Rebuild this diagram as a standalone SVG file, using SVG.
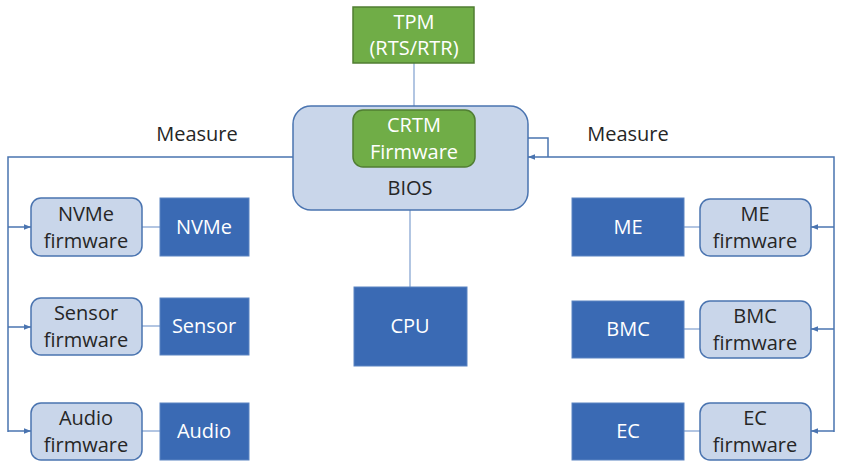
<svg xmlns="http://www.w3.org/2000/svg" width="846" height="468" viewBox="0 0 846 468">
<style>
text{font-family:"Open Sans","Liberation Sans",sans-serif;font-size:20px;text-anchor:middle}
.g{fill:#70AD47;stroke:#507E32;stroke-width:1.5}
.lb{fill:#C9D6EA;stroke:#4A74B0;stroke-width:1.5}
.db{fill:#3A6AB4;stroke:#5B84C2;stroke-width:1}
.w{fill:#FFFFFF}
.k{fill:#262626}
.c{fill:none;stroke:#4A74B0;stroke-width:1.5}
.t{fill:none;stroke:#7F9FCF;stroke-width:1.2}
</style>
<defs>
<marker id="ah" viewBox="0 0 10 10" refX="10" refY="5" markerWidth="7" markerHeight="7" orient="auto" markerUnits="userSpaceOnUse">
<path d="M0,1 L10,5 L0,9 Z" fill="#4A74B0"/>
</marker>
</defs>
<g id="connectors">
<line class="t" x1="414" y1="63" x2="414" y2="107"/>
<line class="t" x1="410" y1="210" x2="410" y2="287"/>
<polyline class="c" points="293,157 8,157 8,432"/>
<line class="c" x1="8" y1="227" x2="31" y2="227" marker-end="url(#ah)"/>
<line class="c" x1="8" y1="327" x2="31" y2="327" marker-end="url(#ah)"/>
<line class="c" x1="8" y1="431" x2="31" y2="431" marker-end="url(#ah)"/>
<polyline class="c" points="475,138 548,138 548,157"/>
<polyline class="c" points="834,432 834,157 528,157" marker-end="url(#ah)"/>
<line class="c" x1="834" y1="227" x2="811" y2="227" marker-end="url(#ah)"/>
<line class="c" x1="834" y1="329" x2="811" y2="329" marker-end="url(#ah)"/>
<line class="c" x1="834" y1="431" x2="811" y2="431" marker-end="url(#ah)"/>
<line class="t" x1="142" y1="227" x2="160" y2="227"/>
<line class="t" x1="142" y1="326" x2="160" y2="326"/>
<line class="t" x1="142" y1="431" x2="160" y2="431"/>
<line class="t" x1="684" y1="227" x2="700" y2="227"/>
<line class="t" x1="684" y1="329" x2="700" y2="329"/>
<line class="t" x1="684" y1="431" x2="700" y2="431"/>
</g>
<g id="labels">
<text class="k" x="197" y="141">Measure</text>
<text class="k" x="628" y="141">Measure</text>
</g>
<g id="tpm">
<rect class="g" x="353" y="7" width="121" height="56"/>
<text class="w" x="414" y="29">TPM</text>
<text class="w" x="414" y="55">(RTS/RTR)</text>
</g>
<g id="bios">
<rect class="lb" x="293" y="106" width="235" height="104" rx="18"/>
<text class="k" x="410" y="195">BIOS</text>
</g>
<g id="crtm">
<rect class="g" x="353" y="110" width="122" height="57" rx="10"/>
<text class="w" x="414" y="132">CRTM</text>
<text class="w" x="414" y="159">Firmware</text>
</g>
<g id="cpu">
<rect class="db" x="354" y="287" width="113" height="79"/>
<text class="w" x="410" y="333">CPU</text>
</g>
<g id="nvme-fw">
<rect class="lb" x="31" y="198" width="111" height="58" rx="10"/>
<text class="k" x="86" y="221">NVMe</text>
<text class="k" x="86" y="248">firmware</text>
</g>
<g id="nvme">
<rect class="db" x="160" y="198" width="89" height="58"/>
<text class="w" x="204" y="234">NVMe</text>
</g>
<g id="sensor-fw">
<rect class="lb" x="31" y="298" width="111" height="57" rx="10"/>
<text class="k" x="86" y="320">Sensor</text>
<text class="k" x="86" y="347">firmware</text>
</g>
<g id="sensor">
<rect class="db" x="160" y="298" width="89" height="57"/>
<text class="w" x="204" y="333">Sensor</text>
</g>
<g id="audio-fw">
<rect class="lb" x="31" y="403" width="111" height="57" rx="10"/>
<text class="k" x="86" y="425">Audio</text>
<text class="k" x="86" y="452">firmware</text>
</g>
<g id="audio">
<rect class="db" x="160" y="403" width="89" height="57"/>
<text class="w" x="204" y="438">Audio</text>
</g>
<g id="me">
<rect class="db" x="572" y="198" width="112" height="58"/>
<text class="w" x="628" y="234">ME</text>
</g>
<g id="me-fw">
<rect class="lb" x="700" y="199" width="111" height="57" rx="10"/>
<text class="k" x="755" y="221">ME</text>
<text class="k" x="755" y="248">firmware</text>
</g>
<g id="bmc">
<rect class="db" x="572" y="301" width="112" height="57"/>
<text class="w" x="628" y="336">BMC</text>
</g>
<g id="bmc-fw">
<rect class="lb" x="700" y="301" width="111" height="57" rx="10"/>
<text class="k" x="755" y="323">BMC</text>
<text class="k" x="755" y="350">firmware</text>
</g>
<g id="ec">
<rect class="db" x="572" y="403" width="112" height="57"/>
<text class="w" x="628" y="438">EC</text>
</g>
<g id="ec-fw">
<rect class="lb" x="700" y="403" width="111" height="57" rx="10"/>
<text class="k" x="755" y="425">EC</text>
<text class="k" x="755" y="452">firmware</text>
</g>
</svg>
